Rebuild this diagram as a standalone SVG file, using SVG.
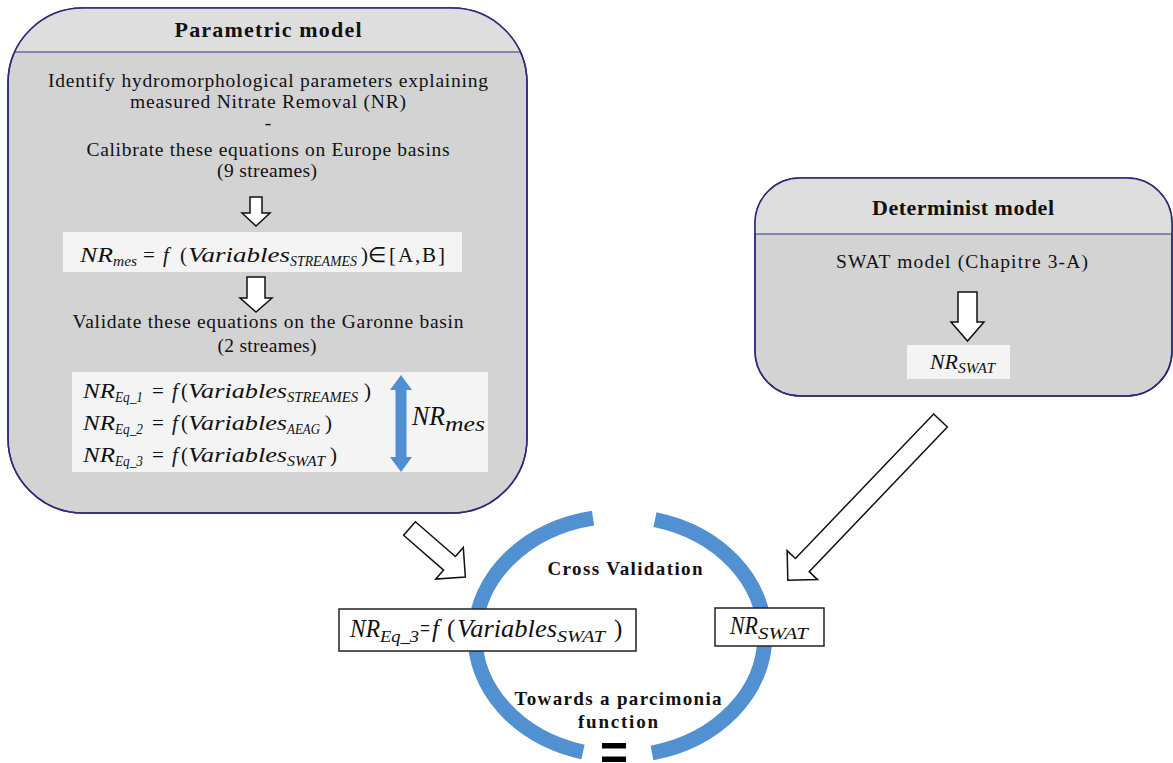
<svg xmlns="http://www.w3.org/2000/svg" width="1173" height="763" viewBox="0 0 1173 763">
<style>
.box{fill:#d3d3d3;stroke:#2b2b78;stroke-width:1.5}
.hdr{fill:#dedede}
.hline{stroke:#33338a;stroke-width:1.2}
.t{font-family:"Liberation Serif",serif;font-size:19.5px;fill:#111;text-anchor:middle}
.tb{font-family:"Liberation Serif",serif;font-weight:bold;fill:#111;text-anchor:middle}
.m{font-family:"Liberation Serif",serif;font-style:italic;fill:#111}
.u{font-family:"Liberation Serif",serif;fill:#111}
.hol{fill:#fff;stroke:#111;stroke-width:1.5;stroke-linejoin:miter}
.wb{fill:#f4f4f4}
.ob{fill:#fff;stroke:#222;stroke-width:1.5}
.ring{fill:none;stroke:#5190d1;stroke-width:15}
</style>
<defs>
<clipPath id="cp1"><rect x="8" y="8" width="519" height="505" rx="75"/></clipPath>
<clipPath id="cp2"><rect x="755" y="178" width="417" height="218" rx="45"/></clipPath>
</defs>

<g id="parametric">
<rect class="box" x="8" y="8" width="519" height="505" rx="75"/>
<rect class="hdr" x="8" y="8" width="519" height="44" clip-path="url(#cp1)"/>
<rect x="8" y="8" width="519" height="505" rx="75" fill="none" stroke="#2b2b78" stroke-width="1.5"/>
<line class="hline" x1="8" y1="52" x2="527" y2="52" clip-path="url(#cp1)"/>
<text class="tb" x="268" y="37" font-size="22" textLength="187">Parametric model</text>
<text class="t" x="268" y="87" textLength="440">Identify hydromorphological parameters explaining</text>
<text class="t" x="268" y="108" textLength="276">measured Nitrate Removal (NR)</text>
<text class="t" x="268" y="129">-</text>
<text class="t" x="268" y="156" textLength="363">Calibrate these equations on Europe basins</text>
<text class="t" x="267" y="177" textLength="100">(9 streames)</text>
<polygon class="hol" points="250,197 262,197 262,213 270,213 256,226 242,213 250,213"/>
<rect class="wb" x="63" y="232" width="399" height="40"/>
<text class="m" x="80" y="262" font-size="21" textLength="33" lengthAdjust="spacingAndGlyphs">NR</text>
<text class="m" x="113" y="266" font-size="15" textLength="24" lengthAdjust="spacingAndGlyphs">mes</text>
<text class="u" x="143" y="262" font-size="21">=</text>
<text class="m" x="163" y="262" font-size="21">f</text>
<text class="u" x="180" y="262" font-size="21">(</text>
<text class="m" x="188" y="262" font-size="21" textLength="102" lengthAdjust="spacingAndGlyphs">Variables</text>
<text class="m" x="290" y="266" font-size="14" textLength="67" lengthAdjust="spacingAndGlyphs">STREAMES</text>
<text class="u" x="361" y="262" font-size="21">)</text>
<text class="u" x="368" y="262" font-size="21">∈</text>
<text class="u" x="389" y="262" font-size="21" textLength="56">[A,B]</text>
<polygon class="hol" points="247,277 265,277 265,298 272,298 256,312 240,298 247,298"/>
<text class="t" x="268" y="328" textLength="391">Validate these equations on the Garonne basin</text>
<text class="t" x="267" y="352" textLength="99">(2 streames)</text>
<rect class="wb" x="72" y="372" width="416" height="100"/>
<g>
<text class="m" x="83" y="398" font-size="21" textLength="32" lengthAdjust="spacingAndGlyphs">NR</text>
<text class="m" x="115" y="402" font-size="14" textLength="28" lengthAdjust="spacingAndGlyphs">Eq_1</text>
<text class="u" x="152" y="398" font-size="21">=</text>
<text class="m" x="172" y="398" font-size="21">f</text>
<text class="u" x="181" y="398" font-size="21">(</text>
<text class="m" x="188" y="398" font-size="21" textLength="99" lengthAdjust="spacingAndGlyphs">Variables</text>
<text class="m" x="287" y="402" font-size="14" textLength="71" lengthAdjust="spacingAndGlyphs">STREAMES</text>
<text class="u" x="364" y="398" font-size="21">)</text>
</g>
<g>
<text class="m" x="83" y="430" font-size="21" textLength="32" lengthAdjust="spacingAndGlyphs">NR</text>
<text class="m" x="115" y="434" font-size="14" textLength="28" lengthAdjust="spacingAndGlyphs">Eq_2</text>
<text class="u" x="152" y="430" font-size="21">=</text>
<text class="m" x="172" y="430" font-size="21">f</text>
<text class="u" x="181" y="430" font-size="21">(</text>
<text class="m" x="188" y="430" font-size="21" textLength="99" lengthAdjust="spacingAndGlyphs">Variables</text>
<text class="m" x="287" y="434" font-size="14" textLength="33" lengthAdjust="spacingAndGlyphs">AEAG</text>
<text class="u" x="325" y="430" font-size="21">)</text>
</g>
<g>
<text class="m" x="83" y="462" font-size="21" textLength="32" lengthAdjust="spacingAndGlyphs">NR</text>
<text class="m" x="115" y="466" font-size="14" textLength="28" lengthAdjust="spacingAndGlyphs">Eq_3</text>
<text class="u" x="152" y="462" font-size="21">=</text>
<text class="m" x="172" y="462" font-size="21">f</text>
<text class="u" x="181" y="462" font-size="21">(</text>
<text class="m" x="188" y="462" font-size="21" textLength="99" lengthAdjust="spacingAndGlyphs">Variables</text>
<text class="m" x="287" y="466" font-size="14" textLength="38" lengthAdjust="spacingAndGlyphs">SWAT</text>
<text class="u" x="330" y="462" font-size="21">)</text>
</g>
<polygon fill="#4f8ed1" points="401,375 412,390 406.5,390 406.5,457 412,457 401,472 390,457 395.5,457 395.5,390 390,390"/>
<text class="m" x="412" y="425" font-size="27" textLength="33" lengthAdjust="spacingAndGlyphs">NR</text>
<text class="m" x="445" y="431" font-size="21" textLength="40" lengthAdjust="spacingAndGlyphs">mes</text>
</g>

<g id="determinist">
<rect class="box" x="755" y="178" width="417" height="218" rx="45"/>
<rect class="hdr" x="755" y="178" width="417" height="56" clip-path="url(#cp2)"/>
<rect x="755" y="178" width="417" height="218" rx="45" fill="none" stroke="#2b2b78" stroke-width="1.5"/>
<line class="hline" x1="755" y1="234" x2="1172" y2="234" clip-path="url(#cp2)"/>
<text class="tb" x="963" y="215" font-size="22" textLength="182">Determinist model</text>
<text class="t" x="962" y="268" textLength="252">SWAT model (Chapitre 3-A)</text>
<polygon class="hol" points="958,292 977,292 977,322 984,322 967.5,341 951,322 958,322"/>
<rect class="wb" x="907" y="345" width="103" height="34"/>
<text class="m" x="930" y="369" font-size="21" textLength="28" lengthAdjust="spacingAndGlyphs">NR</text>
<text class="m" x="958" y="373" font-size="15" textLength="37" lengthAdjust="spacingAndGlyphs">SWAT</text>
</g>

<g id="cross-validation">
<path class="ring" d="M 593 518.1 A 145 120 0 0 0 583 752"/>
<path class="ring" d="M 655 519.6 A 145 120 0 0 1 652 753"/>
<text class="tb" x="625" y="575" font-size="19" textLength="155">Cross Validation</text>
<text class="tb" x="618" y="705" font-size="19" textLength="207">Towards a parcimonia</text>
<text class="tb" x="618" y="728" font-size="19" textLength="80">function</text>
<text x="614" y="770" font-family="Liberation Sans, sans-serif" font-weight="bold" font-size="50" text-anchor="middle" fill="#000" textLength="28" lengthAdjust="spacingAndGlyphs">=</text>
</g>

<g id="eq3-box">
<rect class="ob" x="339" y="609" width="297" height="42"/>
<text class="m" x="350" y="637" font-size="25" textLength="30" lengthAdjust="spacingAndGlyphs">NR</text>
<text class="m" x="380" y="642" font-size="17" textLength="39" lengthAdjust="spacingAndGlyphs">Eq_3</text>
<text class="u" x="420" y="637" font-size="25" textLength="10" lengthAdjust="spacingAndGlyphs">=</text>
<text class="m" x="432" y="637" font-size="25">f</text>
<text class="u" x="447" y="637" font-size="25">(</text>
<text class="m" x="457" y="637" font-size="25" textLength="100" lengthAdjust="spacingAndGlyphs">Variables</text>
<text class="m" x="557" y="642" font-size="17" textLength="48" lengthAdjust="spacingAndGlyphs">SWAT</text>
<text class="u" x="614" y="637" font-size="25">)</text>
</g>

<g id="nrswat-box">
<rect class="ob" x="715" y="608" width="109" height="38"/>
<text class="m" x="730" y="634" font-size="25" textLength="28" lengthAdjust="spacingAndGlyphs">NR</text>
<text class="m" x="758" y="639" font-size="17" textLength="50" lengthAdjust="spacingAndGlyphs">SWAT</text>
</g>

<g id="connectors">
<polygon class="hol" transform="translate(409.5,528.5) rotate(41)" points="0,-9 53,-9 53,-21 74,0 53,21 53,9 0,9"/>
<polygon class="hol" transform="translate(940.5,420.5) rotate(133.7)" points="0,-9.5 200,-9.5 200,-21 221,0 200,21 200,9.5 0,9.5"/>
</g>
</svg>
